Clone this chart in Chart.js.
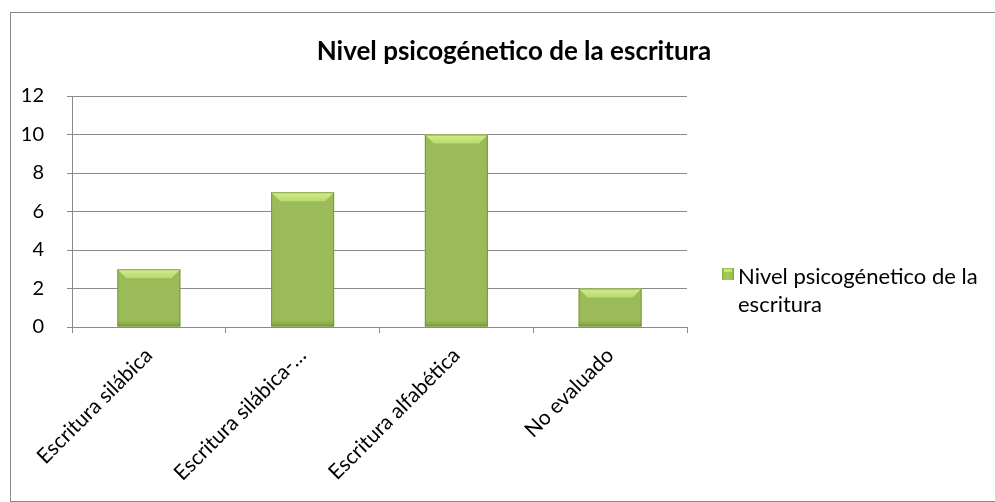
<!DOCTYPE html>
<html>
<head>
<meta charset="utf-8">
<script src="https://cdn.jsdelivr.net/npm/chart.js@4"></script>
<style>
  html, body { margin: 0; padding: 0; background: #fff; }
  #wrap { position: relative; width: 995px; height: 502px; overflow: hidden; }
  #frame { position: absolute; left: 10px; top: 12px; width: 1000px; height: 488px;
           border: 1.5px solid #8a8a8a; pointer-events: none; }
  canvas { position: absolute; left: 0; top: 0; }
</style>
</head>
<body>
<div id="wrap">
  <div id="frame"></div>
  <canvas id="myChart" width="995" height="502"></canvas>
</div>
<script>
const categories = ['Escritura silábica', 'Escritura silábica-…', 'Escritura alfabética', 'No evaluado'];
const values = [3, 7, 10, 2];
const seriesName = 'Nivel psicogénetico de la escritura';
const titleText = 'Nivel psicogénetico de la escritura';
const legendLines = ['Nivel psicogénetico de la', 'escritura'];
const yTicks = [0, 2, 4, 6, 8, 10, 12];

const FONT = 'Lato, "Open Sans", sans-serif';

function barFill(ctx, x0, x1) {
  const g = ctx.createLinearGradient(x0, 0, x1, 0);
  g.addColorStop(0, '#7d9f35');
  g.addColorStop(0.08, '#9cc24c');
  g.addColorStop(0.5, '#a5ca59');
  g.addColorStop(0.92, '#96bb48');
  g.addColorStop(1, '#6c8c2c');
  return g;
}

// bevel on each bar + title + legend
const decor = {
  id: 'decor',
  afterDatasetsDraw(chart) {
    const c = chart.ctx;
    const meta = chart.getDatasetMeta(0);
    c.save();
    meta.data.forEach(bar => {
      const l = bar.x - bar.width / 2, r = bar.x + bar.width / 2;
      const t = bar.y, b = bar.base;
      const bev = Math.min(9, (b - t) / 3);
      c.beginPath();
      c.moveTo(l, t); c.lineTo(r, t); c.lineTo(r - bev, t + bev); c.lineTo(l + bev, t + bev); c.closePath();
      const g = c.createLinearGradient(0, t, 0, t + bev);
      g.addColorStop(0, '#d4ec92'); g.addColorStop(1, '#b8da6c');
      c.fillStyle = g; c.fill();
      const g2 = c.createLinearGradient(0, b - 6, 0, b);
      g2.addColorStop(0, 'rgba(90,120,35,0)'); g2.addColorStop(1, 'rgba(90,120,35,0.45)');
      c.fillStyle = g2;
      c.fillRect(l, b - 6, r - l, 6);
      c.strokeStyle = 'rgba(105,135,45,0.7)'; c.lineWidth = 1;
      c.strokeRect(l + 0.5, t + 0.5, r - l - 1, b - t - 1);
    });
    c.restore();
  },
  afterDraw(chart) {
    const c = chart.ctx;
    c.save();
    c.fillStyle = '#000';
    c.font = 'bold 26px ' + FONT;
    c.textAlign = 'center'; c.textBaseline = 'middle';
    c.fillText(titleText, 514, 52);

    const sx = 722, sy = 268;
    c.fillStyle = barFill(c, sx, sx + 12);
    c.fillRect(sx, sy, 12, 12);
    c.fillStyle = '#c6e27e';
    c.fillRect(sx + 2, sy + 1, 8, 3);
    c.fillStyle = '#000';
    c.font = '22px ' + FONT;
    c.textAlign = 'left'; c.textBaseline = 'middle';
    legendLines.forEach((s, i) => c.fillText(s, 738, 277 + i * 28));
    c.restore();
  }
};

const ctx = document.getElementById('myChart').getContext('2d');
const myChart = new Chart(ctx, {
  type: 'bar',
  data: {
    labels: categories,
    datasets: [{
      label: seriesName,
      data: values,
      backgroundColor: (context) => {
        const el = context.element;
        if (!el || el.width === undefined) return '#9bbb59';
        return barFill(context.chart.ctx, el.x - el.width / 2, el.x + el.width / 2);
      },
      borderWidth: 0,
      categoryPercentage: 1,
      barPercentage: 0.41,
    }],
  },
  options: {
    responsive: false,
    animation: false,
    layout: { padding: { left: 0, top: 96, right: 308, bottom: 0 } },
    plugins: {
      legend: { display: false },
      title: { display: false },
      tooltip: { enabled: false },
    },
    scales: {
      x: {
        offset: true,
        grid: { offset: true, drawOnChartArea: false, drawTicks: true, tickLength: 6, color: '#8a8a8a' },
        border: { display: true, color: '#8a8a8a', width: 1 },
        ticks: {
          color: '#000',
          font: { family: FONT, size: 21 },
          minRotation: 45, maxRotation: 45,
          autoSkip: false,
          padding: 10,
        },
        afterFit(scale) { scale.height = 175; },
      },
      y: {
        min: 0, max: 12,
        afterBuildTicks(scale) { scale.ticks = yTicks.map(v => ({ value: v })); },
        grid: { color: '#8a8a8a', lineWidth: 1, tickLength: 5, drawTicks: true },
        border: { display: true, color: '#8a8a8a', width: 1 },
        ticks: {
          color: '#000',
          font: { family: FONT, size: 20 },
          padding: 23,
        },
        afterFit(scale) { scale.width = 72; },
      },
    },
  },
  plugins: [decor],
});
</script>
</body>
</html>
